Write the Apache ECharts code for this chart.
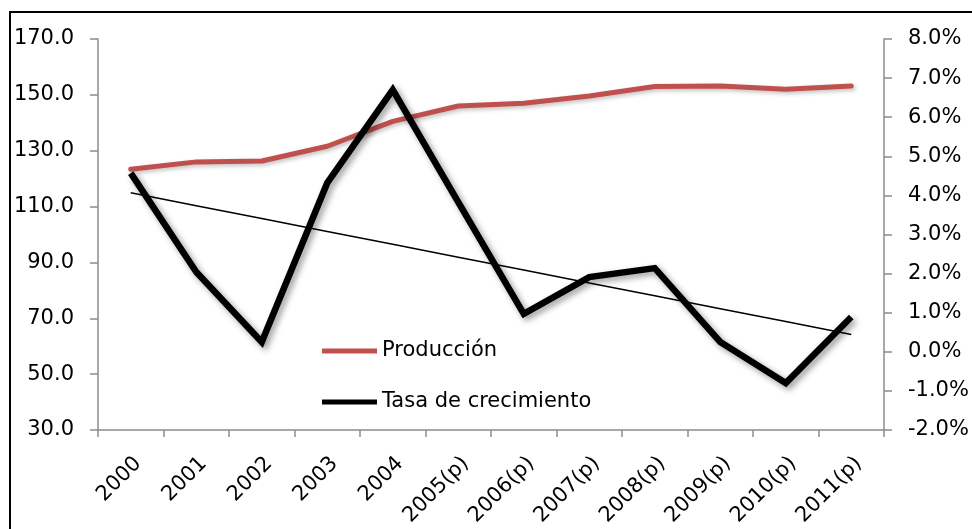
<!DOCTYPE html>
<html>
<head>
<meta charset="utf-8">
<script src="https://cdn.jsdelivr.net/npm/echarts@6/dist/echarts.min.js"></script>
<style>
html,body{margin:0;padding:0;background:#fff;}
#main{width:972px;height:529px;}
</style>
</head>
<body>
<div id="main"></div>
<script>
var years = ['2000','2001','2002','2003','2004','2005(p)','2006(p)','2007(p)','2008(p)','2009(p)','2010(p)','2011(p)'];
var produccion = [123.4, 126.0, 126.3, 131.6, 140.5, 146.0, 147.0, 149.6, 153.0, 153.2, 152.0, 153.2];
// tasa de crecimiento, en %
var tasa = [4.57, 2.04, 0.25, 4.32, 6.70, 3.83, 0.97, 1.91, 2.14, 0.25, -0.80, 0.89];
var leftTicks = [30, 170, 20];
var rightTicks = [-2, 8, 1];

// linea de tendencia (minimos cuadrados sobre la tasa, como la de Excel)
function trend(vals){
	var n = vals.length, sx = 0, sy = 0, sxy = 0, sxx = 0;
	for(var i=0;i<n;i++){
		sx += i; sy += vals[i]; sxy += i*vals[i]; sxx += i*i;
	}
	var b = (n*sxy - sx*sy)/(n*sxx - sx*sx);
	var a = (sy - b*sx)/n;
	var out = [];
	for(var i=0;i<n;i++){
		out.push(+(a + b*i).toFixed(4));
	}
	return out;
}

var font = 'DejaVu Sans';
var fsize = 21;
var axisGray = '#8c8c8c';
var myChart = echarts.init(document.getElementById('main'));
var option = {
	animation: false,
	textStyle: {fontFamily: font},
	graphic: [{
		type: 'rect',
		shape: {x: 10, y: 12, width: 1000, height: 600},
		style: {fill: 'none', stroke: '#000', lineWidth: 2},
		silent: true
	}],
	grid: {left: 98, right: 88, top: 39, bottom: 99},
	legend: {
		orient: 'vertical',
		left: 322,
		top: 339,
		padding: 0,
		itemWidth: 55,
		itemHeight: 5,
		itemGap: 27,
		icon: 'rect',
		data: ['Producción', 'Tasa de crecimiento'],
		textStyle: {fontFamily: font, fontSize: fsize, color: '#000', lineHeight: 24}
	},
	xAxis: {
		type: 'category',
		data: years,
		boundaryGap: true,
		axisLine: {onZero: false, lineStyle: {color: axisGray, width: 1.5}},
		axisTick: {show: true, length: 7, lineStyle: {color: axisGray, width: 1.5}},
		axisLabel: {rotate: 45, margin: 23, verticalAlign: 'top', fontSize: fsize, color: '#000', fontFamily: font, interval: 0},
		splitLine: {show: false}
	},
	yAxis: [{
		type: 'value',
		min: leftTicks[0], max: leftTicks[1], interval: leftTicks[2],
		position: 'left',
		axisLine: {show: true, lineStyle: {color: axisGray, width: 1.5}},
		axisTick: {show: true, length: 8, lineStyle: {color: axisGray, width: 1.5}},
		axisLabel: {margin: 24, fontSize: fsize, color: '#000', fontFamily: font,
			formatter: function(v){ return v.toFixed(1); }},
		splitLine: {show: false}
	},{
		type: 'value',
		min: rightTicks[0], max: rightTicks[1], interval: rightTicks[2],
		position: 'right',
		axisLine: {show: true, lineStyle: {color: axisGray, width: 1.5}},
		axisTick: {show: true, length: 8, lineStyle: {color: axisGray, width: 1.5}},
		axisLabel: {margin: 24, fontSize: fsize, color: '#000', fontFamily: font,
			formatter: function(v){ return v.toFixed(1) + '%'; }},
		splitLine: {show: false}
	}],
	series: [{
		name: 'Producción',
		type: 'line',
		yAxisIndex: 0,
		data: produccion,
		symbol: 'none',
		itemStyle: {color: '#c0504d'},
		lineStyle: {color: '#c0504d', width: 5, cap: 'round', join: 'round',
			shadowColor: 'rgba(0,0,0,0.25)', shadowBlur: 4, shadowOffsetX: 2, shadowOffsetY: 2},
		z: 3
	},{
		name: 'Tasa de crecimiento',
		type: 'line',
		yAxisIndex: 1,
		data: tasa,
		symbol: 'none',
		itemStyle: {color: '#000'},
		lineStyle: {color: '#000', width: 6.5, join: 'miter',
			shadowColor: 'rgba(0,0,0,0.4)', shadowBlur: 6, shadowOffsetX: 3, shadowOffsetY: 3},
		z: 4
	},{
		name: 'Tendencia',
		type: 'line',
		yAxisIndex: 1,
		data: trend(tasa),
		symbol: 'none',
		lineStyle: {color: '#000', width: 1.5},
		z: 2
	}]
};
myChart.setOption(option);
</script>
</body>
</html>
